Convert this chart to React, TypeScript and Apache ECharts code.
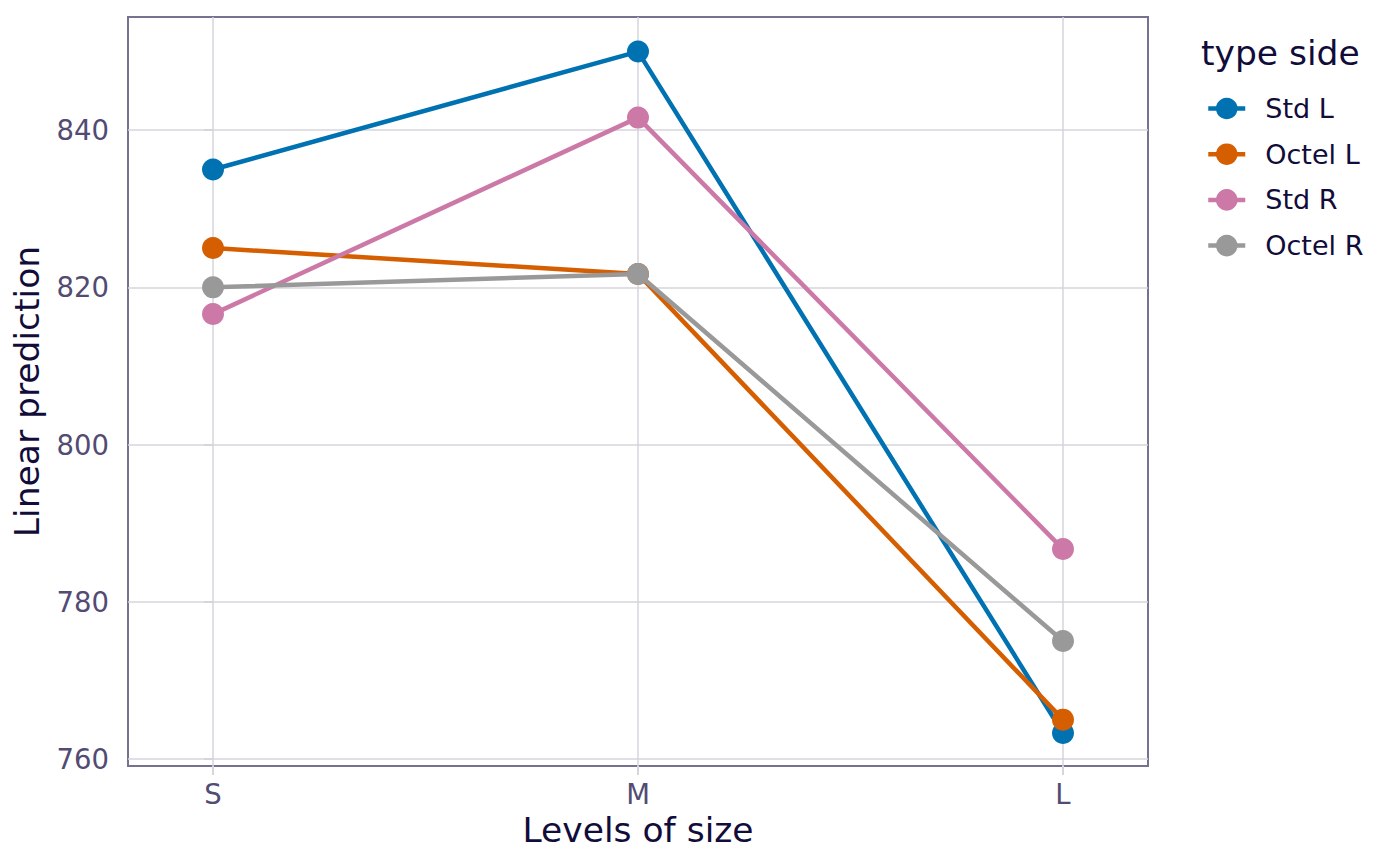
import React, { useEffect, useRef } from "react";
import * as echarts from "echarts";

const sizes = ["S", "M", "L"];
const seriesNames = ["Std L", "Octel L", "Std R", "Octel R"];
const stdL = [835, 850, 763.3];
const octelL = [825, 821.7, 765];
const stdR = [816.6, 841.6, 786.7];
const octelR = [820, 821.7, 775];
const yTicks = [760, 780, 800, 820, 840];
const colors = ["#0072B2", "#D55E00", "#CC79A7", "#999999"];

const FONT = "DejaVu Sans";
const TEXT = "#110c3a";
const TICKTEXT = "#524b72";
const GRID = "#d6d5dc";

export default function App() {
  const ref = useRef<HTMLDivElement>(null);
  useEffect(() => {
    document.body.style.margin = "0";
    const chart = echarts.init(ref.current!, null, { renderer: "svg" });
    const all = [stdL, octelL, stdR, octelR];
    const xIdx = sizes.map((_, i) => i);
    chart.setOption({
      animation: false,
      backgroundColor: "#ffffff",
      textStyle: { fontFamily: FONT },
      title: {
        text: "type side",
        left: 1196,
        top: 30,
        textStyle: { fontFamily: FONT, fontSize: 34.5, fontWeight: "normal", color: TEXT },
      },
      legend: {
        orient: "vertical",
        left: 1201,
        top: 90,
        itemWidth: 37,
        itemHeight: 27,
        itemGap: 18.7,
        data: seriesNames,
        lineStyle: { width: 4.5 },
        textStyle: { fontFamily: FONT, fontSize: 27, color: TEXT, padding: [0, 0, 0, 15] },
      },
      grid: {
        left: 128,
        top: 17,
        right: 252,
        bottom: 100,
        show: true,
        borderColor: "#76718f",
        borderWidth: 2,
        backgroundColor: "transparent",
      },
      xAxis: {
        type: "value",
        min: -0.2,
        max: 2.2,
        name: "Levels of size",
        nameLocation: "middle",
        nameGap: 43,
        nameTextStyle: { fontFamily: FONT, fontSize: 34.5, color: TEXT },
        axisLine: { show: false },
        axisTick: { show: true, length: 9, customValues: xIdx, lineStyle: { color: GRID, width: 2 } },
        axisLabel: {
          customValues: xIdx,
          formatter: (v: number) => sizes[Math.round(v)] ?? "",
          fontFamily: FONT,
          fontSize: 27.5,
          color: TICKTEXT,
          margin: 14,
        },
        splitLine: { show: true, lineStyle: { color: GRID, width: 1.5 } },
      },
      yAxis: {
        type: "value",
        min: 759.1,
        max: 854.4,
        name: "Linear prediction",
        nameLocation: "middle",
        nameGap: 84,
        nameTextStyle: { fontFamily: FONT, fontSize: 34.5, color: TEXT },
        axisLine: { show: false },
        axisTick: { show: true, length: 9, customValues: yTicks, lineStyle: { color: GRID, width: 2 } },
        axisLabel: {
          customValues: yTicks,
          fontFamily: FONT,
          fontSize: 27.5,
          color: TICKTEXT,
          margin: 19,
        },
        splitLine: { show: true, lineStyle: { color: GRID, width: 1.5 } },
      },
      series: seriesNames.map((name, si) => ({
        name,
        type: "line",
        data: all[si].map((v, i) => [i, v]),
        symbol: "circle",
        symbolSize: 22,
        color: colors[si],
        lineStyle: { width: 4.5, color: colors[si] },
        itemStyle: { color: colors[si] },
        z: 2 + si,
      })),
    });
    return () => chart.dispose();
  }, []);
  return <div ref={ref} style={{ width: 1400, height: 866 }} />;
}
